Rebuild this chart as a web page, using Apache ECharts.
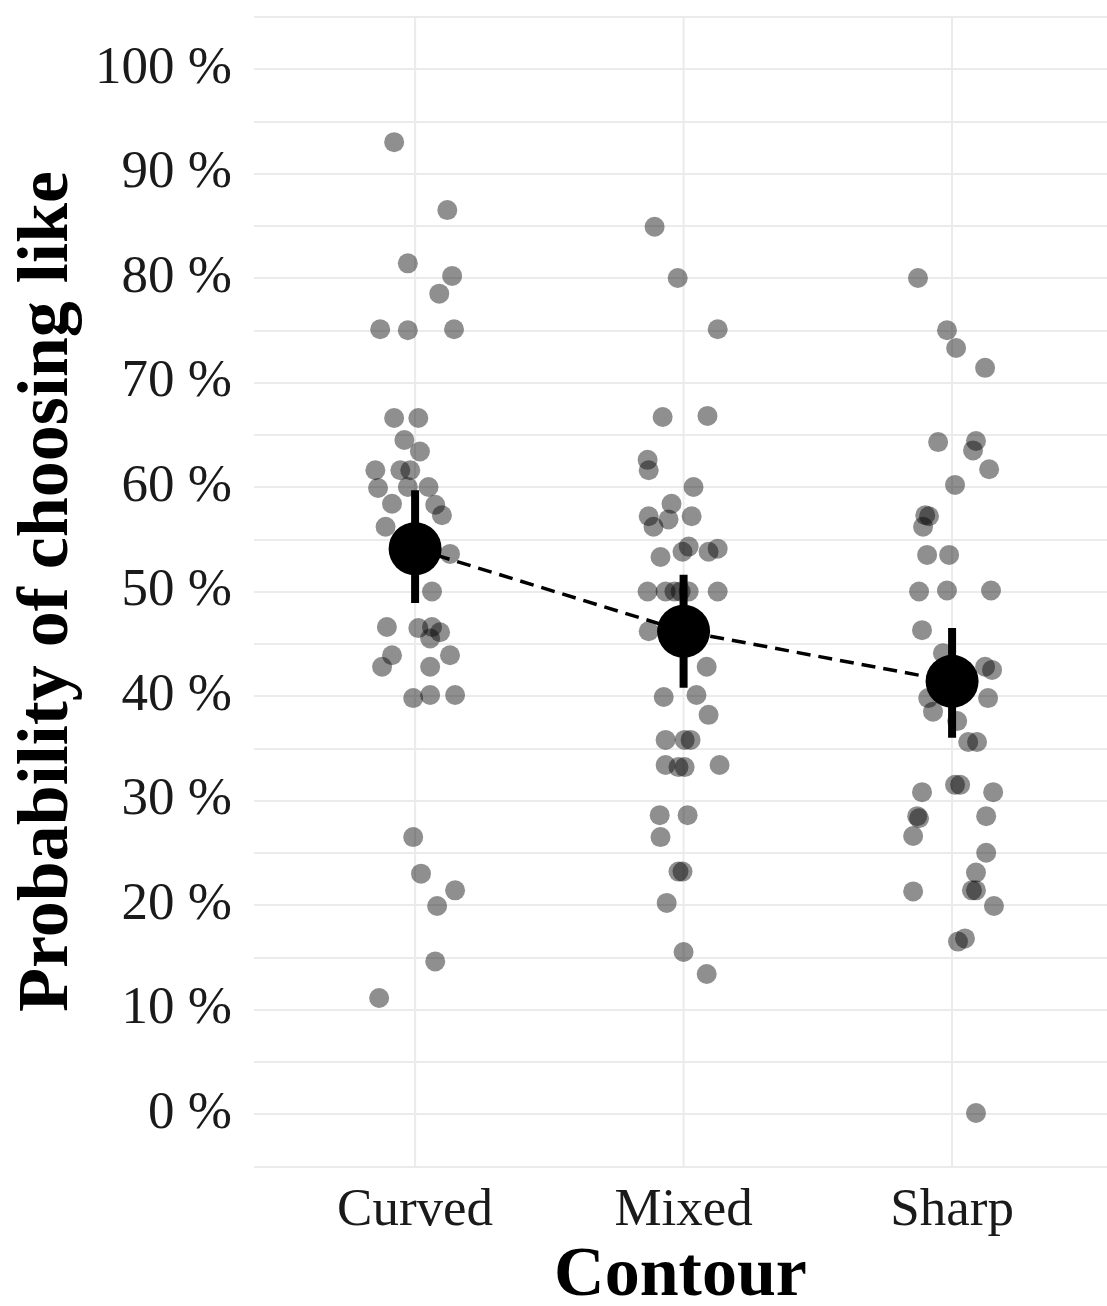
<!DOCTYPE html>
<html>
<head>
<meta charset="utf-8">
<script src="https://cdn.jsdelivr.net/npm/echarts@6/dist/echarts.min.js"></script>
<style>
html,body{margin:0;padding:0;background:#fff;}
#chart{width:1107px;height:1306px;}
</style>
</head>
<body>
<div id="chart"></div>
<script>
const categories = ['Curved', 'Mixed', 'Sharp'];
const yTickLabels = [0, 10, 20, 30, 40, 50, 60, 70, 80, 90, 100];

const curvedValues = [93.0, 86.5, 81.4, 80.2, 78.5, 75.1, 75.0, 75.1, 66.6, 66.6, 64.5, 63.4, 61.6, 61.6, 61.6,
  59.9, 60.0, 60.0, 58.4, 58.3, 57.3, 56.2, 53.6, 50.0, 46.6, 46.5, 46.6, 46.1, 45.5, 43.9, 42.8, 43.9, 42.8,
  39.8, 40.1, 40.1, 26.5, 23.0, 21.4, 19.9, 14.6, 11.1];
const curvedJitter = [-0.078, 0.12, -0.027, 0.138, 0.09, -0.13, -0.027, 0.145, -0.078, 0.012, -0.04, 0.018, -0.148, -0.055, -0.018,
  -0.138, -0.027, 0.05, -0.086, 0.075, 0.1, -0.11, 0.13, 0.063, -0.105, 0.012, 0.063, 0.093, 0.056, -0.086, -0.123, 0.13, 0.056,
  -0.007, 0.056, 0.149, -0.007, 0.022, 0.149, 0.082, 0.075, -0.134];

const mixedValues = [84.9, 80.0, 75.1, 66.7, 66.8, 62.6, 61.6, 60.0, 58.4, 57.2, 56.2, 56.9, 57.2, 53.3, 53.8, 54.3, 53.8, 54.1,
  50.0, 50.0, 50.0, 50.0, 50.0, 50.0, 46.2, 42.8, 39.9, 40.1, 38.2, 35.8, 35.8, 35.8, 33.4, 33.2, 33.2, 33.4,
  28.6, 28.6, 26.5, 23.2, 23.2, 20.2, 15.5, 13.4];
const mixedJitter = [-0.108, -0.022, 0.127, -0.078, 0.089, -0.134, -0.13, 0.037, -0.045, -0.13, -0.112, -0.056, 0.03, -0.086, -0.004, 0.019, 0.093, 0.127,
  -0.134, -0.067, -0.034, -0.011, 0.019, 0.127, -0.13, 0.086, -0.074, 0.048, 0.093, -0.067, 0.004, 0.026, -0.067, -0.019, 0.004, 0.134,
  -0.089, 0.015, -0.086, -0.019, -0.004, -0.063, 0.0, 0.086];

const sharpValues = [80.0, 75.0, 73.3, 71.4, 64.3, 64.4, 63.5, 61.7, 60.2, 57.3, 57.2, 56.2, 53.5, 53.5, 50.0, 50.1, 50.1, 46.3,
  44.1, 42.8, 42.5, 39.8, 39.8, 38.5, 37.6, 35.6, 35.6, 31.5, 31.5, 30.8, 30.8, 28.5, 28.3, 28.5, 26.6, 25.0,
  23.1, 21.4, 21.4, 21.3, 19.9, 16.8, 16.5, 0.1];
const sharpJitter = [-0.127, -0.019, 0.015, 0.123, -0.052, 0.089, 0.078, 0.138, 0.011, -0.1, -0.086, -0.108, -0.093, -0.011, -0.123, -0.019, 0.145, -0.112,
  -0.034, 0.123, 0.149, 0.134, -0.089, -0.071, 0.019, 0.06, 0.093, 0.011, 0.03, -0.112, 0.153, -0.13, -0.123, 0.127, -0.145, 0.127,
  0.089, 0.074, 0.089, -0.145, 0.156, 0.048, 0.022, 0.089];

const meanValues = [54.1, 46.2, 41.4];
const ciLow = [48.9, 40.8, 36.0];
const ciHigh = [59.7, 51.6, 46.5];

const groups = [[curvedValues, curvedJitter], [mixedValues, mixedJitter], [sharpValues, sharpJitter]];
const pointData = [];
groups.forEach(function (g, i) {
  g[0].forEach(function (v, k) { pointData.push([i + 1 + g[1][k], v]); });
});

const FONT = 'Liberation Serif';
const Y_MIN = -5, Y_MAX = 105;
const chart = echarts.init(document.getElementById('chart'));
chart.setOption({
  animation: false,
  backgroundColor: '#fff',
  grid: { left: 254, right: 0, top: 16.75, bottom: 139.75, containLabel: false, outerBoundsMode: 'none' },
  xAxis: {
    type: 'value', min: 0.4, max: 3.577,
    name: 'Contour', nameLocation: 'middle', nameGap: 66,
    nameTextStyle: { fontFamily: FONT, fontWeight: 'bold', fontSize: 70, color: '#000' },
    axisLine: { show: false }, axisTick: { show: false, customValues: [1, 2, 3] },
    splitLine: { show: false },
    axisLabel: {
      customValues: [1, 2, 3], margin: 18,
      fontFamily: FONT, fontSize: 53, color: '#1a1a1a',
      formatter: function (v) { return categories[Math.round(v) - 1] || ''; }
    }
  },
  yAxis: {
    type: 'value', min: Y_MIN, max: Y_MAX, interval: 5,
    name: 'Probability of choosing like', nameLocation: 'middle', nameGap: 170, nameRotate: 90,
    nameTextStyle: { fontFamily: FONT, fontWeight: 'bold', fontSize: 72, color: '#000' },
    axisLine: { show: false }, axisTick: { show: false },
    splitLine: { show: true, lineStyle: { color: '#ebebeb', width: 2 } },
    axisLabel: {
      margin: 22, fontFamily: FONT, fontSize: 53, color: '#1a1a1a',
      formatter: function (v) { return yTickLabels.indexOf(v) >= 0 ? v + ' %' : ''; }
    }
  },
  series: [
    {
      type: 'custom', z: 1, silent: true,
      data: categories.map(function (c, i) { return [i + 1]; }),
      encode: { x: 0 },
      renderItem: function (params, api) {
        const x = api.value(0);
        const a = api.coord([x, Y_MIN]);
        const b = api.coord([x, Y_MAX]);
        return { type: 'line', shape: { x1: a[0], y1: a[1], x2: b[0], y2: b[1] },
          style: { stroke: '#ebebeb', lineWidth: 2 } };
      }
    },
    {
      type: 'scatter', data: pointData, z: 2, symbolSize: 20,
      itemStyle: { color: 'rgba(0,0,0,0.55)' }
    },
    {
      type: 'line', z: 3, symbol: 'none',
      data: meanValues.map(function (v, i) { return [i + 1, v]; }),
      lineStyle: { color: '#000', width: 3.5, type: [14, 8] }
    },
    {
      type: 'custom', z: 4,
      data: categories.map(function (c, i) { return [i + 1, ciLow[i], ciHigh[i]]; }),
      encode: { x: 0, y: [1, 2] },
      renderItem: function (params, api) {
        const x = api.value(0);
        const lo = api.coord([x, api.value(1)]);
        const hi = api.coord([x, api.value(2)]);
        return { type: 'rect', shape: { x: lo[0] - 4, y: hi[1], width: 8, height: lo[1] - hi[1] },
          style: { fill: '#000', stroke: null } };
      }
    },
    {
      type: 'scatter', z: 5, symbolSize: 53,
      data: meanValues.map(function (v, i) { return [i + 1, v]; }),
      itemStyle: { color: '#000', opacity: 1 }
    }
  ]
});
</script>
</body>
</html>
